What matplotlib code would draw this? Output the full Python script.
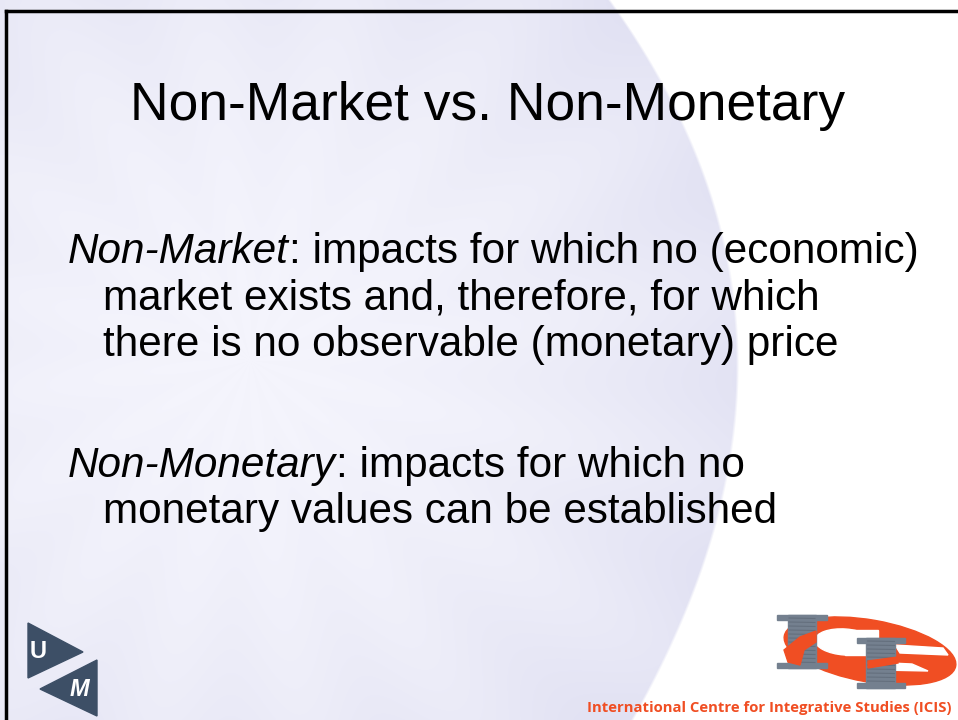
import numpy as np
import matplotlib.pyplot as plt
from matplotlib.patches import Polygon, Ellipse, Rectangle

plt.rcParams['font.family'] = ['Liberation Sans', 'DejaVu Sans']

#### slide content ####
title = "Non-Market vs. Non-Monetary"
terms = ["Non-Market", "Non-Monetary"]
definitions = [
    [": impacts for which no (economic)",
     "market exists and, therefore, for which",
     "there is no observable (monetary) price"],
    [": impacts for which no",
     "monetary values can be established"],
]
para_top = [263, 477]      # baseline of first line, pixels
line_gap = 46.5
footer = "International Centre for Integrative Studies (ICIS)"

W, H = 958, 720
fig = plt.figure(figsize=(W / 100, H / 100), dpi=100)
ax = fig.add_axes([0, 0, 1, 1])
ax.set_xlim(0, W)
ax.set_ylim(H, 0)
ax.axis("off")

#### background: pale lavender shape with soft folds ####
edge_y = [0, 11, 83, 133, 200, 267, 333, 390, 480, 580, 713, 720]
edge_x = [610, 617, 667, 690, 710, 727, 736, 740, 733, 693, 637, 634]
coef = np.polyfit(edge_y, edge_x, 4)
yy, xx = np.mgrid[0:H, 0:W]
bound = np.polyval(coef, yy)
inside = xx < bound
cx, cy = 250, 360
d = np.sqrt((xx - cx) ** 2 + (yy - cy) ** 2)
shade = np.clip(d / 520, 0, 1) ** 1.8
ang = np.arctan2(yy - cy, xx - cx)
folds = 0.5 + 0.5 * np.sin(ang * 16 + 0.002 * d)
t = 0.2 + 0.6 * shade + 0.15 * folds * (0.3 + shade)
t = np.clip(t, 0, 1)
lav = np.array([0.88, 0.88, 0.95])
img = (1 - t[..., None]) * np.array([0.98, 0.98, 1.0]) + t[..., None] * lav
# soft edge of the shape
alpha = np.clip((bound - xx) / 3.0, 0, 1)[..., None]
img = alpha * img + (1 - alpha) * 1.0
ax.imshow(img, extent=[0, W, H, 0], zorder=0, aspect="auto")

# frame
ax.plot([6, W], [11, 11], color="black", lw=2.5, zorder=1)
ax.plot([6, 6], [11, H], color="black", lw=2.5, zorder=1)

#### title ####
ax.text(488, 120, title, fontsize=38.4, ha="center", va="baseline", zorder=3)

#### body ####
fig.canvas.draw()
renderer = fig.canvas.get_renderer()
for term, lines, y0 in zip(terms, definitions, para_top):
    it = ax.text(68, y0, term, fontsize=30.4, style="italic", va="baseline", zorder=3)
    bb = it.get_window_extent(renderer)
    x_end = ax.transData.inverted().transform((bb.x1, bb.y0))[0]
    ax.text(x_end, y0, lines[0], fontsize=30.4, va="baseline", zorder=3)
    for k, line in enumerate(lines[1:], start=1):
        ax.text(103, y0 + k * line_gap, line, fontsize=30.4, va="baseline", zorder=3)

#### UM logo ####
slate = "#3d4f66"
ax.add_patch(Polygon([(28, 623), (28, 678), (83, 652)], closed=True, color=slate, zorder=3))
ax.add_patch(Polygon([(97, 660), (97, 716), (40, 689)], closed=True, color=slate, zorder=3))
ax.text(38, 652, "U", fontsize=17, fontweight="bold", color="white", ha="center", va="center", zorder=4)
ax.text(79, 690, "M", fontsize=17, fontweight="bold", style="italic", color="white",
        ha="center", va="center", zorder=4)

#### ICIS logo ####
red = "#f04e23"
grey = "#74808f"
dark = "#4d5663"
ax.add_patch(Ellipse((870, 651), 174, 62, angle=10, color=red, zorder=3))
# white C interior
ax.add_patch(Ellipse((845, 642), 60, 26, angle=4, color="white", zorder=3))
ax.add_patch(Rectangle((845, 630), 33, 25, color="white", zorder=3))
# white S interior
ax.add_patch(Polygon([(895, 645), (943, 648), (948, 655), (900, 653)], closed=True, color="white", zorder=3))
ax.add_patch(Polygon([(870, 662), (912, 664), (928, 671), (880, 670)], closed=True, color="white", zorder=3))


def grey_i(x0, y0, w, h, stem):
    # serif capital I, drawn with a few streaks
    sx = x0 + (w - stem) / 2
    ax.add_patch(Rectangle((x0, y0), w, 5, color=grey, zorder=4))
    ax.add_patch(Rectangle((x0, y0 + h - 5), w, 5, color=grey, zorder=4))
    ax.add_patch(Rectangle((sx, y0), stem, h, color=grey, zorder=4))
    for k in range(3, int(h) - 3, 4):
        ax.plot([sx + 1, sx + stem - 1], [y0 + k, y0 + k + 0.5], color=dark, lw=0.8, alpha=0.4, zorder=4)


grey_i(777, 615, 50, 53, 28)
grey_i(857, 638, 48, 50, 29)
# red strokes passing in front of the letters
ax.add_patch(Polygon([(784, 650), (800, 637), (816, 631), (816, 642), (804, 650), (800, 665), (788, 662)],
                     closed=True, color=red, zorder=5))
ax.add_patch(Polygon([(868, 661), (898, 657), (898, 663), (868, 668)], closed=True, color=red, zorder=5))

ax.text(769, 708, footer, fontsize=10.7, fontweight="bold", color=red, ha="center", va="center",
        family=["Open Sans", "DejaVu Sans"], zorder=4)

fig.savefig("out.png", dpi=100)
